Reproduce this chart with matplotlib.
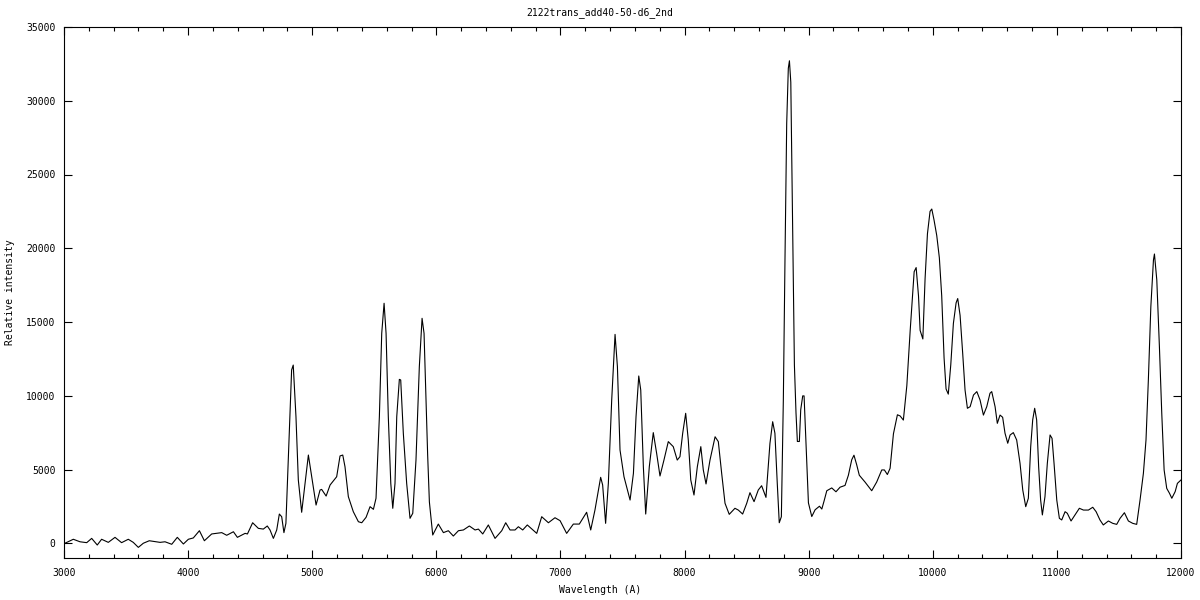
import matplotlib
matplotlib.use("Agg")
import matplotlib.pyplot as plt
from matplotlib.ticker import MultipleLocator

title = "2122trans_add40-50-d6_2nd"

# wavelength (A)
wavelength = [
    3008, 3075, 3129, 3183, 3223, 3268, 3303, 3357, 3411, 3464, 3518, 3558, 3599, 3639,
    3687, 3774, 3814, 3868, 3913, 3962, 4002, 4042, 4091, 4131, 4190, 4271, 4311, 4365,
    4397, 4459, 4478, 4520, 4566, 4606, 4638, 4660, 4687, 4714, 4735, 4754, 4772, 4788,
    4807, 4834, 4847, 4869, 4888, 4915, 4942, 4969, 4996, 5031, 5063, 5076, 5112, 5144,
    5197, 5224, 5246, 5264, 5291, 5331, 5372, 5399, 5434, 5466, 5493, 5514, 5541, 5560,
    5579, 5595, 5613, 5633, 5649, 5667, 5681, 5702, 5713, 5734, 5761, 5788, 5810, 5836,
    5863, 5885, 5901, 5917, 5930, 5944, 5971, 6016, 6057, 6097, 6137, 6178, 6218, 6266,
    6312, 6339, 6374, 6419, 6473, 6527, 6559, 6594, 6634, 6661, 6696, 6733, 6809, 6849,
    6903, 6956, 6997, 7050, 7104, 7152, 7211, 7244, 7278, 7324, 7340, 7364, 7386, 7413,
    7440, 7459, 7480, 7512, 7561, 7588, 7609, 7631, 7647, 7668, 7687, 7716, 7748, 7775,
    7802, 7834, 7869, 7909, 7941, 7963, 7985, 8009, 8030, 8050, 8076, 8103, 8131, 8151,
    8173, 8205, 8246, 8272, 8299, 8326, 8360, 8406, 8433, 8468, 8501, 8527, 8560, 8594,
    8621, 8656, 8688, 8710, 8728, 8747, 8763, 8780, 8796, 8809, 8823, 8836, 8845, 8856,
    8872, 8885, 8898, 8909, 8925, 8936, 8952, 8963, 8979, 8998, 9025, 9052, 9087, 9106,
    9124, 9146, 9186, 9220, 9253, 9293, 9320, 9347, 9365, 9387, 9408, 9454, 9508, 9548,
    9589, 9610, 9634, 9656, 9683, 9715, 9737, 9763, 9791, 9818, 9850, 9866, 9885, 9898,
    9920, 9938, 9957, 9978, 9992, 10010, 10032, 10053, 10072, 10091, 10107, 10125, 10145,
    10166, 10188, 10201, 10220, 10241, 10260, 10279, 10301, 10328, 10355, 10381, 10408,
    10435, 10461, 10475, 10502, 10520, 10542, 10563, 10582, 10604, 10623, 10649, 10676,
    10703, 10725, 10749, 10770, 10789, 10805, 10821, 10837, 10853, 10869, 10883, 10904,
    10923, 10945, 10961, 10977, 10999, 11020, 11039, 11066, 11084, 11114, 11146, 11181,
    11214, 11254, 11289, 11316, 11347, 11374, 11415, 11450, 11482, 11509, 11544, 11576,
    11611, 11643, 11670, 11697, 11718, 11737, 11757, 11778, 11786, 11805, 11826, 11845,
    11864, 11885, 11907, 11926, 11953, 11971, 12000,
]

# relative intensity at each wavelength
intensity = [
    0, 270, 100, 40, 330, -120, 270, 60, 400, 40, 270, 60, -280, 0,
    170, 60, 100, -70, 400, -50, 270, 360, 850, 170, 630, 720, 540, 780,
    400, 670, 630, 1390, 1010, 960, 1170, 900, 330, 900, 1980, 1800, 720, 1350,
    5640, 11750, 12080, 8580, 4290, 2100, 4060, 5980, 4510, 2590, 3610, 3650, 3200, 3950,
    4510, 5920, 5980, 5190, 3160, 2140, 1460, 1390, 1760, 2480, 2300, 3050, 8580, 14230,
    16270, 14230, 8580, 4060, 2370, 4060, 8580, 11110, 11070, 7460, 4060, 1690, 2030, 5640,
    11970, 15250, 14230, 9710, 6000, 2800, 560, 1300, 720, 850, 490, 850, 900, 1170,
    900, 960, 630, 1240, 330, 850, 1390, 900, 900, 1120, 900, 1240, 670, 1800,
    1390, 1730, 1530, 670, 1300, 1300, 2100, 900, 2250, 4470, 3950, 1350, 4060, 9710,
    14160, 11970, 6320, 4510, 2930, 4740, 8580, 11340, 10390, 5190, 1980, 5190, 7500, 6100,
    4560, 5640, 6890, 6550, 5640, 5870, 7460, 8810, 7000, 4290, 3270, 5190, 6550, 4970,
    4020, 5640, 7220, 6890, 4740, 2710, 1960, 2370, 2250, 1980, 2710, 3430, 2820, 3610,
    3900, 3110, 6770, 8240, 7460, 4060, 1390, 1800, 9760, 19110, 28460, 32200, 32710, 31260,
    20980, 12100, 8820, 6900, 6900, 9050, 9990, 9990, 6720, 2740, 1810, 2270, 2510, 2320,
    2860, 3560, 3750, 3490, 3800, 3920, 4610, 5660, 5970, 5320, 4610, 4150, 3560, 4150,
    4970, 4970, 4660, 5080, 7420, 8710, 8630, 8350, 10690, 14430, 18410, 18690, 16770, 14430,
    13850, 17940, 20980, 22500, 22660, 21920, 20860, 19350, 16770, 12570, 10460, 10110, 12100,
    14900, 16300, 16590, 15450, 12880, 10390, 9150, 9260, 10050, 10280, 9710, 8690,
    9260, 10170, 10280, 9260, 8130, 8690, 8540, 7460, 6780, 7340, 7500, 7000,
    5420, 3610, 2480, 3050, 6550, 8360, 9150, 8360, 5190, 2930, 1920, 3160,
    5420, 7340, 7110, 5420, 2930, 1690, 1580, 2140, 2030, 1510, 1920, 2370,
    2250, 2250, 2440, 2140, 1580, 1240, 1510, 1350, 1280, 1690, 2070, 1510,
    1350, 1280, 2930, 4740, 7000, 11070, 16040, 19200, 19610, 17850, 13330, 8810,
    4970, 3720, 3390, 3050, 3500, 4060, 4290,
]

plt.rcParams['font.family'] = ['DejaVu Sans Mono']
plt.rcParams['font.size'] = 7

fig = plt.figure(figsize=(12, 6), dpi=100)
ax = fig.add_axes([64 / 1200, 1 - 558 / 600, (1181 - 64) / 1200, (558 - 27) / 600])

ax.plot(wavelength, intensity, color='black', linewidth=0.8)

ax.set_xlim(3000, 12000)
ax.set_ylim(-1000, 35000)
ax.xaxis.set_major_locator(MultipleLocator(1000))
ax.xaxis.set_minor_locator(MultipleLocator(200))
ax.yaxis.set_major_locator(MultipleLocator(5000))
ax.tick_params(which='both', direction='in', top=True, right=True, width=0.8, colors='black')
ax.tick_params(which='major', length=6)
ax.tick_params(which='minor', length=3)
ax.tick_params(axis='x', pad=7)
ax.tick_params(axis='y', pad=6)
for s in ax.spines.values():
    s.set_linewidth(0.8)

fig.text(0.5, 1 - 13 / 600, title, ha='center', va='center')
fig.text(0.5, 1 - 590 / 600, "Wavelength (A)", ha='center', va='center')
fig.text(10 / 1200, 1 - 292 / 600, "Relative intensity", ha='center', va='center', rotation=90)

fig.savefig('out.png', dpi=100)
